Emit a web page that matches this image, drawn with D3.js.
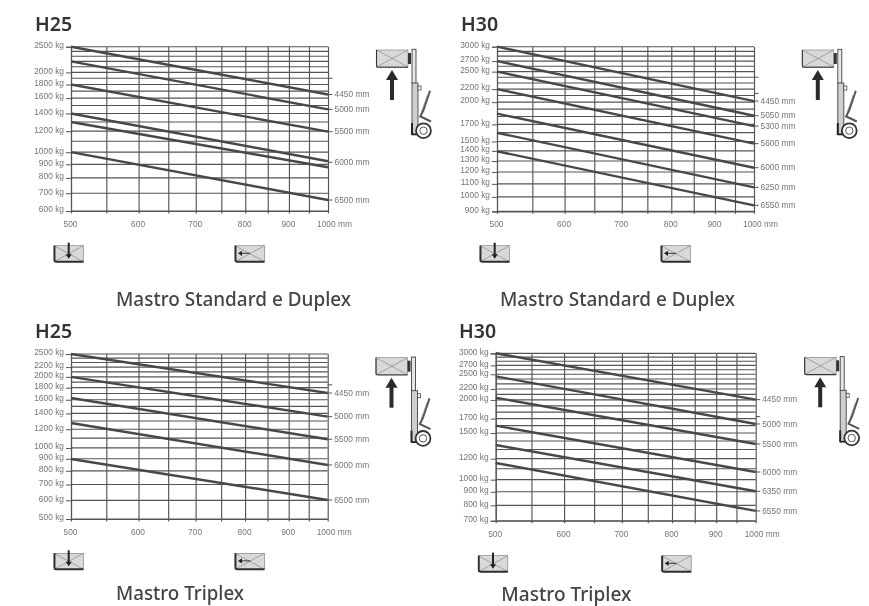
<!DOCTYPE html>
<html>
<head>
<meta charset="utf-8">
<script src="https://cdn.jsdelivr.net/npm/d3@7"></script>
<style>
  html, body { margin: 0; padding: 0; background: #fff; }
  svg { display: block; filter: blur(0.3px); }
</style>
</head>
<body>
<svg id="chart" width="869" height="606"></svg>
<script>
// load centre (mm)
const xGrid = [500, 550, 600, 650, 700, 750, 800, 850, 900, 950, 1000];
const xLabels = [500, 600, 700, 800, 900, 1000];

// H25 standard / duplex
const h25StdGrid = [600, 700, 800, 900, 1000, 1100, 1200, 1300, 1400, 1500, 1600, 1700, 1800, 1900, 2000, 2100, 2200, 2300, 2400, 2500];
const h25StdLabels = [600, 700, 800, 900, 1000, 1200, 1400, 1600, 1800, 2000, 2500];
const h25StdExtra = [1900];
const h25StdAt500 = [2500, 2200, 1800, 1400, 1300, 1000];
const h25StdAt1000 = [1650, 1450, 1195, 924, 877, 660];
const h25StdHeights = [4450, 5000, 5500, 6000, 6500];
const h25StdHeightLoads = [1650, 1450, 1195, 916, 660];

// H30 standard / duplex
const h30StdGrid = [900, 1000, 1100, 1200, 1300, 1400, 1500, 1600, 1700, 1800, 1900, 2000, 2100, 2200, 2300, 2400, 2500, 2600, 2700, 2800, 2900, 3000];
const h30StdLabels = [900, 1000, 1100, 1200, 1300, 1400, 1500, 1700, 2000, 2200, 2500, 2700, 3000];
const h30StdExtra = [2130, 2400];
const h30StdAt500 = [3000, 2700, 2500, 2200, 1838, 1599, 1396];
const h30StdAt1000 = [2015, 1811, 1679, 1476, 1238, 1072, 940];
const h30StdHeights = [4450, 5050, 5300, 5600, 6000, 6250, 6550];
const h30StdHeightLoads = [2015, 1811, 1679, 1476, 1238, 1072, 940];

// H25 triplex
const h25TriGrid = [500, 600, 700, 800, 900, 1000, 1100, 1200, 1300, 1400, 1500, 1600, 1700, 1800, 1900, 2000, 2100, 2200, 2300, 2400, 2500];
const h25TriLabels = [500, 600, 700, 800, 900, 1000, 1200, 1400, 1600, 1800, 2000, 2200, 2500];
const h25TriExtra = [1850];
const h25TriAt500 = [2500, 2000, 1628, 1275, 898];
const h25TriAt1000 = [1709, 1357, 1088, 847, 602];
const h25TriHeights = [4450, 5000, 5500, 6000, 6500];
const h25TriHeightLoads = [1709, 1357, 1088, 847, 602];

// H30 triplex
const h30TriGrid = [700, 800, 900, 1000, 1100, 1200, 1300, 1400, 1500, 1600, 1700, 1800, 1900, 2000, 2100, 2200, 2300, 2400, 2500, 2600, 2700, 2800, 2900, 3000];
const h30TriLabels = [700, 800, 900, 1000, 1200, 1500, 1700, 2000, 2200, 2500, 2700, 3000];
const h30TriExtra = [1730];
const h30TriAt500 = [3000, 2456, 2040, 1599, 1352, 1156];
const h30TriAt1000 = [2005, 1623, 1364, 1069, 904, 762];
const h30TriHeights = [4450, 5000, 5500, 6000, 6350, 6550];
const h30TriHeightLoads = [2005, 1623, 1364, 1069, 904, 762];

const lineColor = '#484848';
const gridColor = '#555';
const labelColor = '#757575';
const headFont = '"Noto Sans", sans-serif';
const labelFont = '"Liberation Sans", Arial, sans-serif';

const svg = d3.select('#chart');
svg.append('rect').attr('width', 869).attr('height', 606).attr('fill', '#fff');

function loadBox(g, w, h) {
  g.append('rect').attr('width', w).attr('height', h).attr('fill', '#d9d9d9').attr('stroke', '#777').attr('stroke-width', 0.6);
  g.append('path').attr('d', `M0,0L${w},${h}M${w},0L0,${h}`).attr('stroke', '#888').attr('stroke-width', 0.7);
}

// small load pictogram under the x axis
function drawLoadIcon(x, y, dir) {
  const g = svg.append('g').attr('transform', `translate(${x},${y})`);
  loadBox(g, 29.5, 16);
  g.append('path')
    .attr('d', 'M0.5,0V14.5Q0.5,16 2,16H29.5')
    .attr('fill', 'none').attr('stroke', '#2e2e2e').attr('stroke-width', 1.9);
  if (dir === 'down') {
    g.append('path').attr('d', 'M14.7,-3V10').attr('stroke', '#222').attr('stroke-width', 2);
    g.append('path').attr('d', 'M11.7,8.5H17.7L14.7,13Z').attr('fill', '#222');
  } else {
    g.append('path').attr('d', 'M15,7.6H6').attr('stroke', '#333').attr('stroke-width', 1);
    g.append('path').attr('d', 'M7,5L3,7.6L7,10.2Z').attr('fill', '#222');
  }
}

// truck side view with raised load
function drawTruck(x, y) {
  const g = svg.append('g').attr('transform', `translate(${x},${y})`);
  loadBox(g, 31.5, 17);
  g.append('path').attr('d', 'M0,0V15.5Q0,17.3 2,17.3H31.5').attr('fill', 'none').attr('stroke', '#333').attr('stroke-width', 1.1);
  g.append('rect').attr('x', 31.5).attr('y', 3).attr('width', 3).attr('height', 11).attr('fill', '#333');
  g.append('path').attr('d', 'M15.5,50V28').attr('stroke', '#2a2a2a').attr('stroke-width', 4);
  g.append('path').attr('d', 'M9.5,30L15.5,20L21.5,30Z').attr('fill', '#2a2a2a');
  g.append('rect').attr('x', 35.5).attr('y', -0.7).attr('width', 4).attr('height', 34)
    .attr('fill', '#e6e6e6').attr('stroke', '#444').attr('stroke-width', 0.9);
  g.append('rect').attr('x', 35.5).attr('y', 33).attr('width', 6).attr('height', 51)
    .attr('fill', '#cfcfcf').attr('stroke', '#444').attr('stroke-width', 0.9);
  g.append('rect').attr('x', 41.5).attr('y', 36).attr('width', 3).attr('height', 4)
    .attr('fill', '#fff').attr('stroke', '#444').attr('stroke-width', 0.8);
  // seat back and cushion
  g.append('path').attr('d', 'M53.5,40.7L47,60L44,66').attr('fill', 'none').attr('stroke', '#555').attr('stroke-width', 2);
  g.append('path').attr('d', 'M51,45L45,62').attr('fill', 'none').attr('stroke', '#777').attr('stroke-width', 0.7);
  g.append('path').attr('d', 'M43,66L54.5,71.5').attr('stroke', '#555').attr('stroke-width', 2);
  g.append('path').attr('d', 'M35.5,85V73').attr('stroke', '#222').attr('stroke-width', 2);
  g.append('path').attr('d', 'M35.5,84.5H41').attr('stroke', '#222').attr('stroke-width', 1.6);
  g.append('circle').attr('cx', 47).attr('cy', 80.7).attr('r', 7.4)
    .attr('fill', '#fff').attr('stroke', '#333').attr('stroke-width', 1.8);
  g.append('circle').attr('cx', 47).attr('cy', 80.7).attr('r', 3.7)
    .attr('fill', '#fff').attr('stroke', '#444').attr('stroke-width', 0.9);
}

function drawPanel(p) {
  const x = d3.scaleLog().domain([500, 1000]).range([p.left, p.right]);
  const y = d3.scaleLog().domain([p.top500, p.bottomLoad]).range([p.top, p.bottom]);

  svg.append('text').attr('x', p.titleX).attr('y', p.titleY)
    .attr('font-family', headFont).attr('font-size', 19.5).attr('font-weight', 600)
    .attr('fill', '#333').text(p.title);
  svg.append('text').attr('x', p.nameX).attr('y', p.nameY)
    .attr('font-family', headFont).attr('font-size', 19.5).attr('font-weight', 500)
    .attr('textLength', p.nameW).attr('lengthAdjust', 'spacingAndGlyphs')
    .attr('fill', '#444').text(p.name);

  // horizontal grid at every 100 kg
  svg.append('g').selectAll('line').data(p.grid).join('line')
    .attr('x1', p.left).attr('x2', p.right)
    .attr('y1', d => y(d)).attr('y2', d => y(d))
    .attr('stroke', gridColor).attr('stroke-width', 1.15);

  // loose ticks sticking out on the right
  svg.append('g').selectAll('line').data(p.extra).join('line')
    .attr('x1', p.right).attr('x2', p.right + 4.5)
    .attr('y1', d => y(d)).attr('y2', d => y(d))
    .attr('stroke', gridColor).attr('stroke-width', 1);

  // x axis with full height grid lines
  const xAxis = svg.append('g')
    .attr('transform', `translate(0,${p.bottom})`)
    .call(d3.axisBottom(x).tickValues(xGrid).tickSizeOuter(0)
      .tickSizeInner(p.bottom - p.top).tickFormat(() => ''));
  xAxis.selectAll('.tick line')
    .attr('y1', 2.5).attr('y2', p.top - p.bottom)
    .attr('stroke', gridColor).attr('stroke-width', 1.15);
  xAxis.select('.domain').attr('stroke', gridColor).attr('stroke-width', 1.15);

  const xText = svg.append('g')
    .attr('transform', `translate(0,${p.bottom})`)
    .call(d3.axisBottom(x).tickValues(xLabels).tickSize(0).tickPadding(10)
      .tickFormat(d => d === 1000 ? '1000 mm' : d));
  xText.select('.domain').remove();
  xText.selectAll('text')
    .attr('font-family', labelFont).attr('font-size', 8.4).attr('fill', labelColor)
    .attr('text-anchor', d => d === 1000 ? 'start' : 'middle')
    .attr('x', d => d === 1000 ? -11.5 : -1);

  // left axis, only the labelled loads
  const yAxis = svg.append('g')
    .attr('transform', `translate(${p.left},0)`)
    .call(d3.axisLeft(y).tickValues(p.labels).tickSizeOuter(0).tickSize(5).tickPadding(2)
      .tickFormat(d => d + ' kg'));
  yAxis.select('.domain').attr('stroke', gridColor).attr('stroke-width', 1.15);
  yAxis.selectAll('.tick line').attr('stroke', gridColor);
  yAxis.selectAll('text')
    .attr('font-family', labelFont).attr('font-size', 8.4).attr('fill', labelColor)
    .attr('dy', '0.1em');

  // capacity lines
  const line = d3.line().x(d => x(d[0])).y(d => y(d[1]));
  svg.append('g').selectAll('path').data(p.at500).join('path')
    .attr('d', (d, i) => line([[500, d], [1000, p.at1000[i]]]))
    .attr('fill', 'none').attr('stroke', lineColor).attr('stroke-width', 2.4);

  // mast height labels on the right
  const right = svg.append('g').attr('transform', `translate(${p.right},0)`);
  right.selectAll('line').data(p.heightLoads).join('line')
    .attr('x1', 0).attr('x2', 4.5)
    .attr('y1', d => y(d)).attr('y2', d => y(d))
    .attr('stroke', gridColor).attr('stroke-width', 1);
  right.selectAll('text').data(p.heights).join('text')
    .attr('x', 6.5).attr('y', (d, i) => y(p.heightLoads[i]))
    .attr('dy', '0.32em')
    .attr('font-family', labelFont).attr('font-size', 8.4).attr('fill', labelColor)
    .text(d => d + ' mm');

  drawTruck(p.truckX, p.truckY);
  drawLoadIcon(p.iconX1, p.iconY, 'down');
  drawLoadIcon(p.iconX2, p.iconY, 'left');
}

drawPanel({
  title: 'H25', name: 'Mastro Standard e Duplex',
  titleX: 35, titleY: 30.6, nameX: 116, nameY: 305.7, nameW: 235,
  left: 71, right: 328, top: 46.7, bottom: 211,
  top500: 2500, bottomLoad: 600,
  grid: h25StdGrid, labels: h25StdLabels, extra: h25StdExtra,
  at500: h25StdAt500, at1000: h25StdAt1000,
  heights: h25StdHeights, heightLoads: h25StdHeightLoads,
  truckX: 376.5, truckY: 50, iconX1: 54, iconX2: 235, iconY: 245.7
});

drawPanel({
  title: 'H30', name: 'Mastro Standard e Duplex',
  titleX: 461, titleY: 30.6, nameX: 500, nameY: 305.7, nameW: 235,
  left: 497, right: 754, top: 46.7, bottom: 211.3,
  top500: 3000, bottomLoad: 900,
  grid: h30StdGrid, labels: h30StdLabels, extra: h30StdExtra,
  at500: h30StdAt500, at1000: h30StdAt1000,
  heights: h30StdHeights, heightLoads: h30StdHeightLoads,
  truckX: 802.3, truckY: 50, iconX1: 480, iconX2: 661, iconY: 245.7
});

drawPanel({
  title: 'H25', name: 'Mastro Triplex',
  titleX: 35, titleY: 338, nameX: 116, nameY: 600, nameW: 128,
  left: 71, right: 327.7, top: 354, bottom: 519,
  top500: 2500, bottomLoad: 500,
  grid: h25TriGrid, labels: h25TriLabels, extra: h25TriExtra,
  at500: h25TriAt500, at1000: h25TriAt1000,
  heights: h25TriHeights, heightLoads: h25TriHeightLoads,
  truckX: 376, truckY: 357.7, iconX1: 54, iconX2: 235, iconY: 553.3
});

drawPanel({
  title: 'H30', name: 'Mastro Triplex',
  titleX: 459, titleY: 337.7, nameX: 501.3, nameY: 601, nameW: 130,
  left: 495.7, right: 755.7, top: 353.3, bottom: 520.7,
  top500: 3000, bottomLoad: 700,
  grid: h30TriGrid, labels: h30TriLabels, extra: h30TriExtra,
  at500: h30TriAt500, at1000: h30TriAt1000,
  heights: h30TriHeights, heightLoads: h30TriHeightLoads,
  truckX: 804.7, truckY: 357.3, iconX1: 478.3, iconX2: 661.7, iconY: 555.7
});
</script>
</body>
</html>
